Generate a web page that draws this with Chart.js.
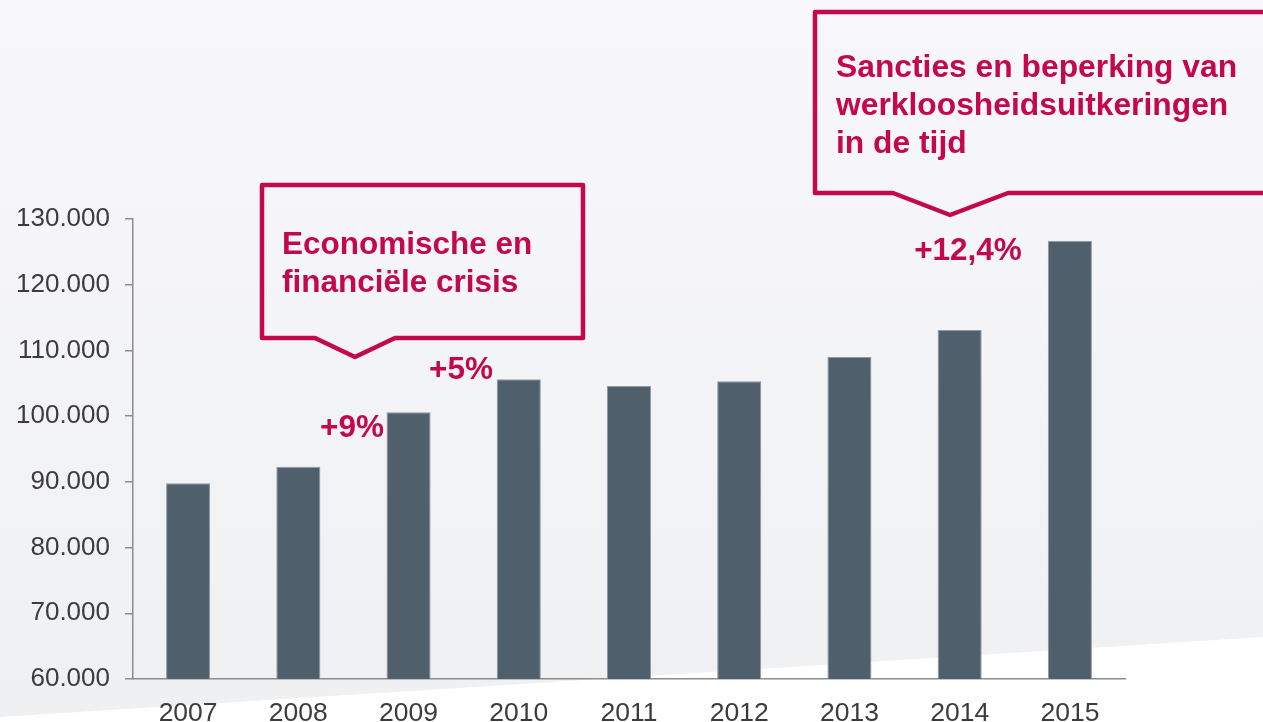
<!DOCTYPE html>
<html>
<head>
<meta charset="utf-8">
<script src="https://cdn.jsdelivr.net/npm/chart.js@4"></script>
<style>
  html, body { margin: 0; padding: 0; background: #ffffff; }
  canvas { display: block; }
</style>
</head>
<body>
<canvas id="uitkeringChart" width="1263" height="722"></canvas>
<script>
// Data
const years = ['2007', '2008', '2009', '2010', '2011', '2012', '2013', '2014', '2015'];
const recipients = [89800, 92300, 100600, 105600, 104600, 105300, 109000, 113100, 126700];
const yTicks = [60000, 70000, 80000, 90000, 100000, 110000, 120000, 130000];

const crimson = '#c4084c';

// light grey backdrop with a white wedge at the bottom
const backdrop = {
    id: 'backdrop',
    beforeDraw(chart) {
        const ctx = chart.ctx;
        const w = chart.width, h = chart.height;
        ctx.save();
        const grad = ctx.createLinearGradient(0, 0, 0, h);
        grad.addColorStop(0, '#f8f8fa');
        grad.addColorStop(1, '#eff0f2');
        ctx.fillStyle = grad;
        ctx.fillRect(0, 0, w, h);
        ctx.fillStyle = '#ffffff';
        ctx.beginPath();
        ctx.moveTo(0, 717);
        ctx.lineTo(w, 637);
        ctx.lineTo(w, h);
        ctx.lineTo(0, h);
        ctx.closePath();
        ctx.fill();
        ctx.restore();
    }
};

// speech-bubble callouts and growth labels
function bubble(ctx, l, t, r, b, baseL, baseR, tipX, tipY) {
    ctx.beginPath();
    ctx.moveTo(baseL, b);
    ctx.lineTo(l, b);
    ctx.lineTo(l, t);
    ctx.lineTo(r, t);
    ctx.lineTo(r, b);
    ctx.lineTo(baseR, b);
    ctx.lineTo(tipX, tipY);
    ctx.closePath();
    ctx.stroke();
}

const callouts = {
    id: 'callouts',
    afterDraw(chart) {
        const ctx = chart.ctx;
        ctx.save();
        ctx.strokeStyle = crimson;
        ctx.lineWidth = 4.5;
        ctx.lineJoin = 'round';
        bubble(ctx, 262, 185, 583, 338, 315, 395, 355, 357);
        bubble(ctx, 815, 12, 1290, 193, 893, 1008, 950, 215);

        ctx.fillStyle = crimson;
        ctx.textAlign = 'left';
        ctx.textBaseline = 'alphabetic';
        ctx.font = 'bold 31.5px "Liberation Sans", Arial, sans-serif';
        ctx.fillText('Economische en', 282, 254);
        ctx.fillText('financiële crisis', 282, 292);

        ctx.font = 'bold 31.8px "Liberation Sans", Arial, sans-serif';
        ctx.fillText('Sancties en beperking van', 836, 77);
        ctx.fillText('werkloosheidsuitkeringen', 836, 115);
        ctx.fillText('in de tijd', 836, 153);

        ctx.font = 'bold 31.5px "Liberation Sans", Arial, sans-serif';
        ctx.textAlign = 'center';
        ctx.fillText('+9%', 352, 437);
        ctx.fillText('+5%', 461, 379);
        ctx.fillText('+12,4%', 968, 260);
        ctx.restore();
    }
};

new Chart(document.getElementById('uitkeringChart').getContext('2d'), {
    type: 'bar',
    data: {
        labels: years,
        datasets: [{
            data: recipients,
            backgroundColor: '#4f606c',
            borderColor: '#8d99a3',
            borderWidth: 1,
            barPercentage: 0.4,
            categoryPercentage: 1.0
        }]
    },
    options: {
        responsive: false,
        animation: false,
        layout: { padding: { left: 0, top: 219, right: 138, bottom: 0 } },
        plugins: {
            legend: { display: false },
            tooltip: { enabled: false }
        },
        scales: {
            x: {
                grid: { display: false },
                border: { display: true, color: '#8c8c8c', width: 1.5 },
                ticks: {
                    color: '#3c3c3c',
                    font: { family: '"Liberation Sans", Arial, sans-serif', size: 26.5 },
                    padding: 11,
                    maxRotation: 0
                },
                afterFit(scale) { scale.height = 43; }
            },
            y: {
                min: 60000,
                max: 130000,
                afterBuildTicks(scale) {
                    scale.ticks = yTicks.map(v => ({ value: v }));
                },
                grid: {
                    drawOnChartArea: false,
                    drawTicks: true,
                    tickLength: 8,
                    color: '#8c8c8c',
                    lineWidth: 1.5
                },
                border: { display: true, color: '#8c8c8c', width: 1.5 },
                ticks: {
                    color: '#3c3c3c',
                    font: { family: '"Liberation Sans", Arial, sans-serif', size: 26 },
                    padding: 15,
                    callback: function (value) {
                        return value.toLocaleString('nl-NL').replace(/,/g, '.');
                    }
                },
                afterFit(scale) { scale.width = 133; }
            }
        }
    },
    plugins: [backdrop, callouts]
});
</script>
</body>
</html>
